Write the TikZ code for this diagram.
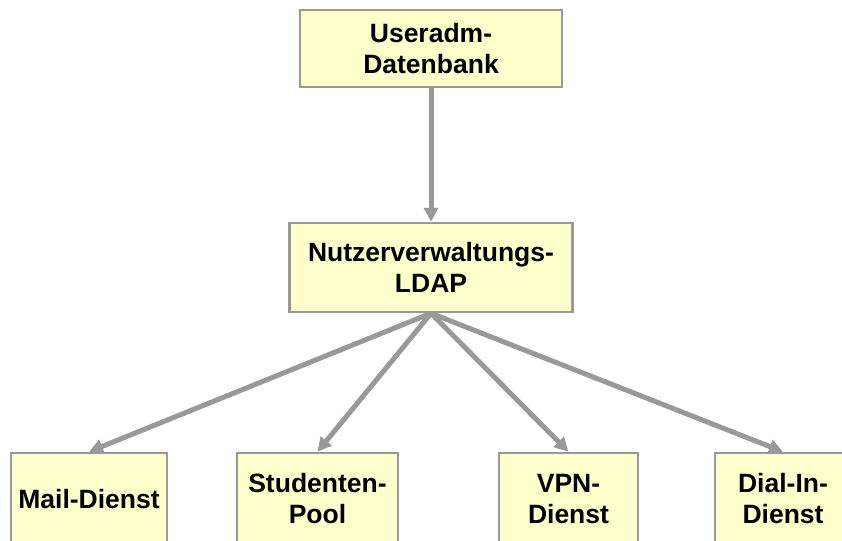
\documentclass[tikz,border=0pt]{standalone}
\usepackage{fontspec}
\setmainfont{Liberation Sans}
\usetikzlibrary{arrows.meta}
\definecolor{boxfill}{HTML}{FFFFCC}
\definecolor{linegray}{HTML}{999999}
\begin{document}
\begin{tikzpicture}[x=1pt,y=-1pt,
  box/.style={draw=linegray,line width=2.5pt,fill=boxfill,inner sep=0pt,
    align=center,font=\fontsize{26.5}{31}\selectfont\bfseries},
  arr/.style={draw=linegray,line width=5pt,
    -{Triangle[length=14pt,width=14pt]}}]
  \useasboundingbox (0,0) rectangle (842,540);
  \clip (0,0) rectangle (842,540);
  % top: source database
  \node[box,minimum width=262pt,minimum height=77pt] (db) at (431,48.5)
    {Useradm-\\Datenbank};
  % middle: central directory
  \node[box,minimum width=283pt,minimum height=89pt] (ldap) at (431,267.5)
    {Nutzerverwaltungs-\\LDAP};
  % bottom: consuming services
  \node[box,minimum width=156pt,minimum height=92pt] (mail) at (89,499)
    {Mail-Dienst};
  \node[box,minimum width=161pt,minimum height=92pt] (pool) at (317.5,499)
    {Studenten-\\Pool};
  \node[box,minimum width=139pt,minimum height=92pt] (vpn) at (568.5,499)
    {VPN-\\Dienst};
  \node[box,minimum width=136pt,minimum height=92pt] (dial) at (783,499)
    {Dial-In-\\Dienst};
  % connectors
  \draw[arr] (db.south) -- (ldap.north);
  \draw[arr] (ldap.south) -- (mail.north);
  \draw[arr] (ldap.south) -- (pool.north);
  \draw[arr] (ldap.south) -- (vpn.north);
  \draw[arr] (ldap.south) -- (dial.north);
\end{tikzpicture}
\end{document}
